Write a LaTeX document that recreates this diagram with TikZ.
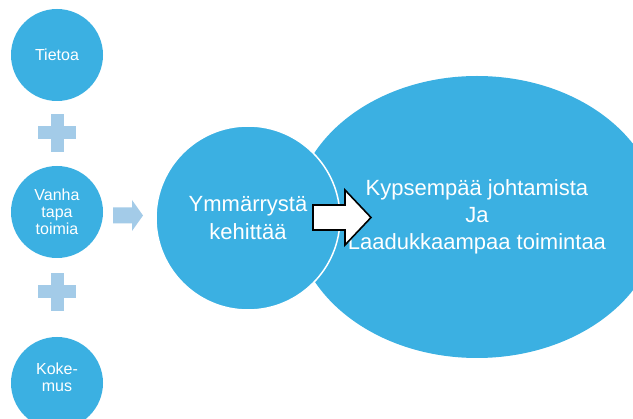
\documentclass[tikz,border=0pt]{standalone}
\usepackage{fontspec}
\setmainfont{Liberation Sans}
\usetikzlibrary{shapes.geometric}
\definecolor{discblue}{RGB}{59,176,226}
\definecolor{paleblue}{RGB}{163,203,232}
\begin{document}
\begin{tikzpicture}[x=1pt,y=-1pt,
  smalldisc/.style={circle,fill=discblue,minimum size=92pt,inner sep=0pt,
    text=white,align=center,font=\fontsize{16}{17}\selectfont},
  middisc/.style={circle,fill=discblue,draw=white,line width=1.5pt,minimum size=184pt,
    inner sep=0pt,text=white,align=center,font=\fontsize{22}{28}\selectfont},
  bigoval/.style={ellipse,fill=discblue,minimum width=314pt,minimum height=282pt,
    inner sep=0pt,text=white,align=center,font=\fontsize{22}{27}\selectfont},
  plussign/.style={fill=paleblue},
  palearrow/.style={fill=paleblue},
  bigarrow/.style={fill=white,draw=black,line width=1.6pt,line join=miter}]
\useasboundingbox (0,0) rectangle (633,419);
\fill[white] (0,0) rectangle (633,419);

% input discs on the left
\node[smalldisc] (tieto) at (57,55) {Tietoa};
\node[smalldisc] (tapa) at (57,212) {Vanha\\tapa\\toimia};
\node[smalldisc] (kokemus) at (57,383) {};
\node[text=white,align=center,font=\fontsize{16}{17}\selectfont] (kokemustxt) at (57,377) {Koke-\\mus};

% plus signs between the discs
\coordinate (p1) at (57,133);
\coordinate (p2) at (57,292);
\foreach \p in {p1,p2}{
  \fill[plussign] ([xshift=-19pt,yshift=-6.5pt]\p) rectangle ([xshift=19pt,yshift=6.5pt]\p);
  \fill[plussign] ([xshift=-6.5pt,yshift=-19pt]\p) rectangle ([xshift=6.5pt,yshift=19pt]\p);
}

% result oval and the middle disc on top of it
\node[bigoval] (tulos) at (477,217) {Kypsempää johtamista\\Ja\\Laadukkaampaa toimintaa};
\node[middisc] (ymmarrys) at (248,218) {Ymmärrystä\\kehittää};

% pale arrow from the inputs to the middle disc
\coordinate (a1) at (113,215.5);
\fill[palearrow] (a1) ++(0,-8) -- ++(19,0) -- ++(0,-7.5) -- ++(11,15.5)
  -- ++(-11,15.5) -- ++(0,-7.5) -- ++(-19,0) -- cycle;

% outlined arrow from the middle disc into the oval
\coordinate (a2) at (313,217.5);
\draw[bigarrow] (a2) ++(0,-12.5) -- ++(32,0) -- ++(0,-15) -- ++(26,27.5)
  -- ++(-26,27.5) -- ++(0,-15) -- ++(-32,0) -- cycle;
\end{tikzpicture}
\end{document}
